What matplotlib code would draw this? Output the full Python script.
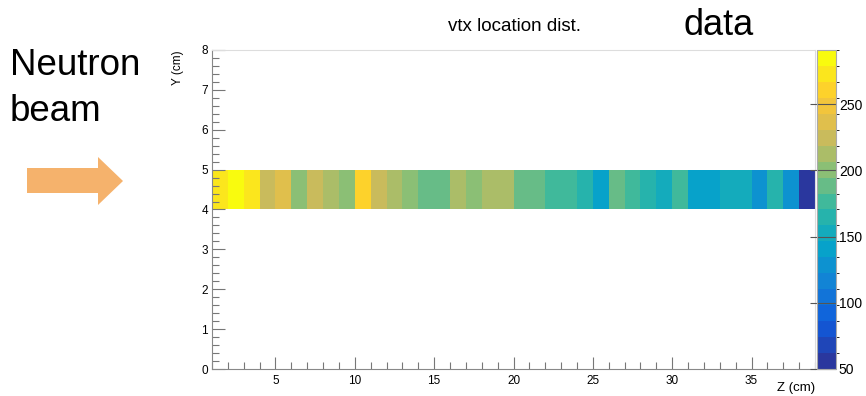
import numpy as np
import matplotlib
matplotlib.use("Agg")
import matplotlib.pyplot as plt
from matplotlib.colors import LinearSegmentedColormap, ListedColormap, BoundaryNorm
from matplotlib.patches import Polygon
from matplotlib.ticker import MultipleLocator

plt.rcParams['font.family'] = ['Liberation Sans', 'DejaVu Sans']

# ---- data ----
z_edges = list(range(1, 40))          # Z bin edges (cm), 38 bins
y_edges = [4, 5]                      # Y bin edges (cm)
counts = [270, 291, 275, 225, 237, 200, 226, 213, 201, 261,
          228, 212, 203, 190, 188, 214, 199, 215, 211, 187,
          191, 178, 175, 166, 142, 189, 177, 167, 156, 180,
          140, 143, 154, 152, 131, 168, 133, 55]
z_min, z_max = 50, 291
n_levels = 20
cbar_ticks = [50, 100, 150, 200, 250]
x_major = [5, 10, 15, 20, 25, 30, 35]
y_major = [0, 1, 2, 3, 4, 5, 6, 7, 8]

# ROOT kBird-like palette
stops = np.linspace(0, 1, 9)
red = [0.165, 0.0592, 0.0780, 0.0232, 0.1802, 0.5301, 0.8186, 0.9956, 0.9764]
green = [0.215, 0.3599, 0.5041, 0.6419, 0.7178, 0.7492, 0.7328, 0.7862, 0.9832]
blue = [0.620, 0.8684, 0.8385, 0.7914, 0.6425, 0.4662, 0.3499, 0.1968, 0.0539]
bird = LinearSegmentedColormap.from_list(
    'bird', list(zip(stops, zip(red, green, blue))))
cmap = ListedColormap([bird(i / (n_levels - 1)) for i in range(n_levels)])
bounds = np.linspace(z_min, z_max, n_levels + 1)
norm = BoundaryNorm(bounds, cmap.N)

W, H = 866, 396
fig = plt.figure(figsize=(W / 100, H / 100), dpi=100)

ax_l, ax_r, ax_t, ax_b = 212, 815, 50, 369
ax = fig.add_axes([ax_l / W, 1 - ax_b / H, (ax_r - ax_l) / W, (ax_b - ax_t) / H])
C = np.array(counts, dtype=float)[None, :]
mesh = ax.pcolormesh(z_edges, y_edges, C, cmap=cmap, norm=norm)
ax.set_xlim(1, 39)
ax.set_ylim(0, 8)
ax.set_xticks(x_major)
ax.set_yticks(y_major)
ax.xaxis.set_minor_locator(MultipleLocator(1))
ax.yaxis.set_minor_locator(MultipleLocator(0.2))
ax.tick_params(which='both', direction='in', colors='#777777', labelcolor='black',
               labelsize=8.5, top=False, right=False)
ax.tick_params(which='major', length=9, width=0.8)
ax.tick_params(which='minor', length=5, width=0.8)
ax.tick_params(axis='x', pad=4)
ax.tick_params(axis='y', pad=3)
for s in ['left', 'bottom']:
    ax.spines[s].set_color('#888888')
for s in ['top', 'right']:
    ax.spines[s].set_color('#dddddd')

# colorbar
cax = fig.add_axes([817 / W, 1 - ax_b / H, 19 / W, (ax_b - ax_t) / H])
cb = fig.colorbar(mesh, cax=cax, ticks=cbar_ticks)
cb.outline.set_edgecolor('#aaaaaa')
cb.outline.set_linewidth(0.8)
cax.tick_params(direction='in', length=19, width=0.8, colors='#555555',
                labelcolor='black', labelsize=10, pad=2)

# texts
fig.text(514 / W, 1 - 31 / H, 'vtx location dist.', ha='center', va='baseline', fontsize=13.5)
fig.text(719 / W, 1 - 35 / H, 'data', ha='center', va='baseline', fontsize=26)
fig.text(178 / W, 1 - 50 / H, 'Y (cm)', rotation=90, ha='center', va='top', fontsize=8.5)
fig.text(815 / W, 1 - 391 / H, 'Z (cm)', ha='right', va='baseline', fontsize=9.5)
fig.text(10 / W, 1 - 75 / H, 'Neutron', ha='left', va='baseline', fontsize=26.5)
fig.text(10 / W, 1 - 121 / H, 'beam', ha='left', va='baseline', fontsize=26.5)

arrow_px = [(27, 168), (98, 168), (98, 157), (123, 181), (98, 205), (98, 193), (27, 193)]
arrow = Polygon([(x / W, 1 - y / H) for x, y in arrow_px], closed=True,
                transform=fig.transFigure, facecolor='#f5b26c', edgecolor='none')
fig.patches.append(arrow)

fig.savefig('out.png', dpi=100)
